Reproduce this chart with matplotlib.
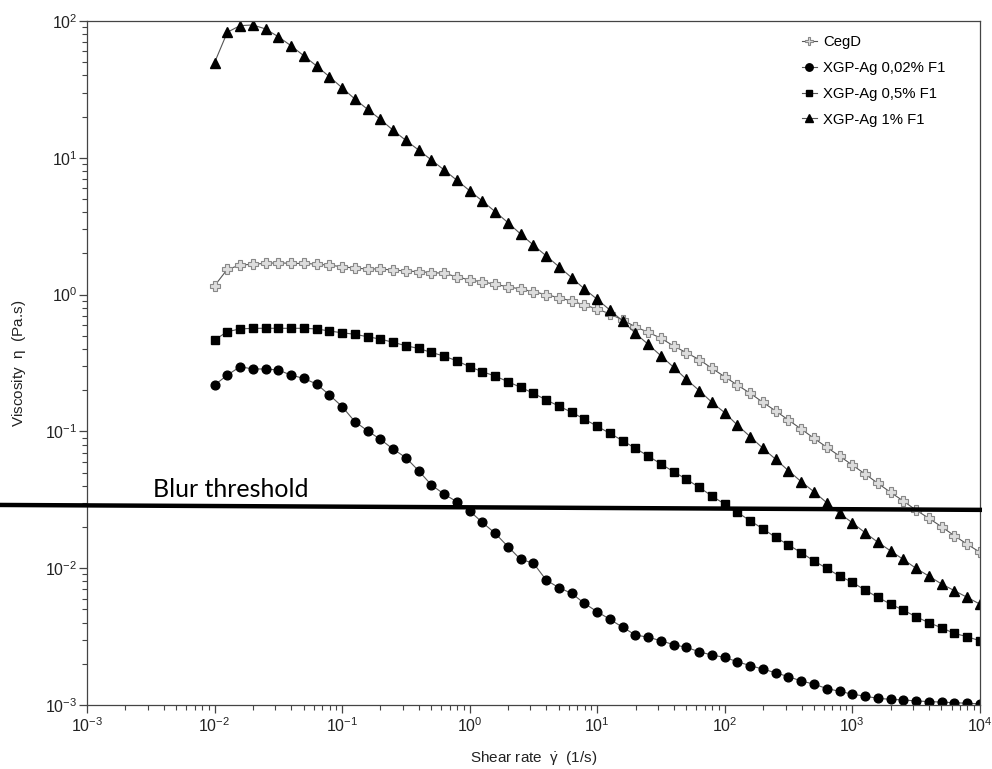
import numpy as np
import matplotlib
matplotlib.use("Agg")
import matplotlib.pyplot as plt

plt.rcParams["font.family"] = ["Liberation Sans", "DejaVu Sans"]
plt.rcParams["mathtext.default"] = "regular"

# shear rate grid: 10 points per decade from 1e-2 to 1e4
shear_rate = np.logspace(-2, 4, 61)

cegd = [1.16, 1.53, 1.64, 1.67, 1.69, 1.71, 1.69, 1.69, 1.67, 1.64,
        1.60, 1.56, 1.54, 1.54, 1.51, 1.49, 1.47, 1.45, 1.43, 1.35,
        1.28, 1.24, 1.19, 1.14, 1.10, 1.05, 1.00, 0.949, 0.898, 0.839,
        0.785, 0.722, 0.652, 0.582, 0.530, 0.480, 0.421, 0.376, 0.335, 0.289,
        0.251, 0.218, 0.190, 0.163, 0.141, 0.121, 0.104, 0.0891, 0.0766, 0.0661,
        0.0568, 0.0489, 0.0418, 0.0359, 0.0310, 0.0266, 0.0232, 0.0201, 0.0173, 0.0150, 0.0131]

xgp_002 = [0.218, 0.258, 0.297, 0.286, 0.286, 0.281, 0.258, 0.244, 0.222, 0.185,
           0.152, 0.118, 0.101, 0.0875, 0.0743, 0.0643, 0.0516, 0.0406, 0.0348, 0.0306,
           0.0262, 0.0216, 0.0180, 0.0144, 0.0116, 0.0109, 0.0082, 0.0072, 0.00655, 0.00553,
           0.00481, 0.00423, 0.00370, 0.00325, 0.00313, 0.00295, 0.00276, 0.00264, 0.00245, 0.00232,
           0.00223, 0.00207, 0.00194, 0.00183, 0.00172, 0.00161, 0.00150, 0.00142, 0.00132, 0.00126,
           0.00120, 0.00116, 0.00112, 0.00110, 0.00109, 0.00107, 0.00106, 0.00105, 0.00104, 0.00103, 0.00102]

xgp_05 = [0.466, 0.536, 0.561, 0.567, 0.567, 0.567, 0.567, 0.567, 0.561, 0.542,
          0.526, 0.513, 0.492, 0.473, 0.448, 0.423, 0.404, 0.378, 0.355, 0.328,
          0.297, 0.273, 0.254, 0.231, 0.210, 0.190, 0.170, 0.153, 0.138, 0.123,
          0.109, 0.0968, 0.0855, 0.0752, 0.0661, 0.0578, 0.0507, 0.0447, 0.0390, 0.0337,
          0.0294, 0.0256, 0.0222, 0.0194, 0.0168, 0.0148, 0.0130, 0.0113, 0.00998, 0.00877,
          0.00789, 0.00693, 0.00613, 0.00547, 0.00494, 0.00442, 0.00400, 0.00367, 0.00334, 0.00316, 0.00295]

xgp_1 = [49.6, 82.7, 92.5, 93.5, 87.5, 76.7, 65.9, 55.7, 46.9, 39.2,
         32.5, 26.9, 22.6, 19.1, 15.9, 13.4, 11.4, 9.64, 8.15, 6.85,
         5.75, 4.83, 4.04, 3.36, 2.77, 2.30, 1.92, 1.60, 1.33, 1.10,
         0.924, 0.771, 0.641, 0.521, 0.433, 0.357, 0.294, 0.240, 0.199, 0.163,
         0.137, 0.111, 0.0915, 0.0752, 0.0625, 0.0516, 0.0429, 0.0362, 0.0301, 0.0252,
         0.0215, 0.0182, 0.0155, 0.0134, 0.0116, 0.00998, 0.00877, 0.00767, 0.00686, 0.00613, 0.00547]

labels = ["CegD", "XGP-Ag 0,02% F1", "XGP-Ag 0,5% F1", "XGP-Ag 1% F1"]

# hand-drawn threshold line (extends past the left spine)
blur_x = [2.1e-4, 1e4]
blur_y = [0.029, 0.0267]

x_ticks = [1e-3, 1e-2, 1e-1, 1e0, 1e1, 1e2, 1e3, 1e4]
y_ticks = [1e-3, 1e-2, 1e-1, 1e0, 1e1, 1e2]

fig = plt.figure(figsize=(9.92, 7.69), dpi=100)
ax = fig.add_axes([0.0877, 0.0832, 0.900, 0.8895])

line_kw = dict(color="#555555", lw=0.8)
ax.plot(shear_rate, cegd, marker="P", ms=6.5, mfc="#dddddd", mec="#888888", mew=0.8,
        label=labels[0], **line_kw)
ax.plot(shear_rate, xgp_002, marker="o", ms=6.3, mfc="black", mec="black",
        label=labels[1], **line_kw)
ax.plot(shear_rate, xgp_05, marker="s", ms=5.8, mfc="black", mec="black",
        label=labels[2], **line_kw)
ax.plot(shear_rate, xgp_1, marker="^", ms=6.8, mfc="black", mec="black",
        label=labels[3], **line_kw)

ax.plot(blur_x, blur_y, color="black", lw=3.2, clip_on=False, zorder=5)
ax.text(3.3e-3, 0.033, "Blur threshold", fontsize=18, family=["Lato", "DejaVu Sans"],
        color="black")

ax.set_xscale("log")
ax.set_yscale("log")
ax.set_xticks(x_ticks)
ax.set_yticks(y_ticks)
ax.set_xlim(1e-3, 1e4)
ax.set_ylim(1e-3, 1e2)

ax.set_xlabel(r"Shear rate  $\dot{\gamma}$  (1/s)", fontsize=11, color="#222222", labelpad=10)
ax.set_ylabel(r"Viscosity  $\eta$  (Pa.s)", fontsize=11, color="#222222", labelpad=12)

for s in ax.spines.values():
    s.set_color("#444444")
    s.set_linewidth(0.9)
ax.tick_params(which="both", direction="out", top=False, right=False,
               colors="#444444", labelcolor="#222222", labelsize=11.5)
ax.tick_params(which="major", length=6, width=0.9)
ax.tick_params(which="minor", length=3.5, width=0.8)
ax.tick_params(axis="x", which="major", pad=2)
ax.tick_params(axis="y", which="major", pad=1)
ax.xaxis.set_minor_locator(matplotlib.ticker.LogLocator(base=10, subs=np.arange(2, 10), numticks=20))
ax.yaxis.set_minor_locator(matplotlib.ticker.LogLocator(base=10, subs=np.arange(2, 10), numticks=20))
ax.xaxis.set_minor_formatter(matplotlib.ticker.NullFormatter())
ax.yaxis.set_minor_formatter(matplotlib.ticker.NullFormatter())

ax.legend(loc="upper left", bbox_to_anchor=(802 / 992, 1 - 35 / 769),
          bbox_transform=fig.transFigure, frameon=False, fontsize=10.7,
          handlelength=1.0, handletextpad=0.4, labelspacing=0.8,
          borderpad=0, borderaxespad=0, markerscale=0.85)

fig.savefig("out.png", dpi=100)
